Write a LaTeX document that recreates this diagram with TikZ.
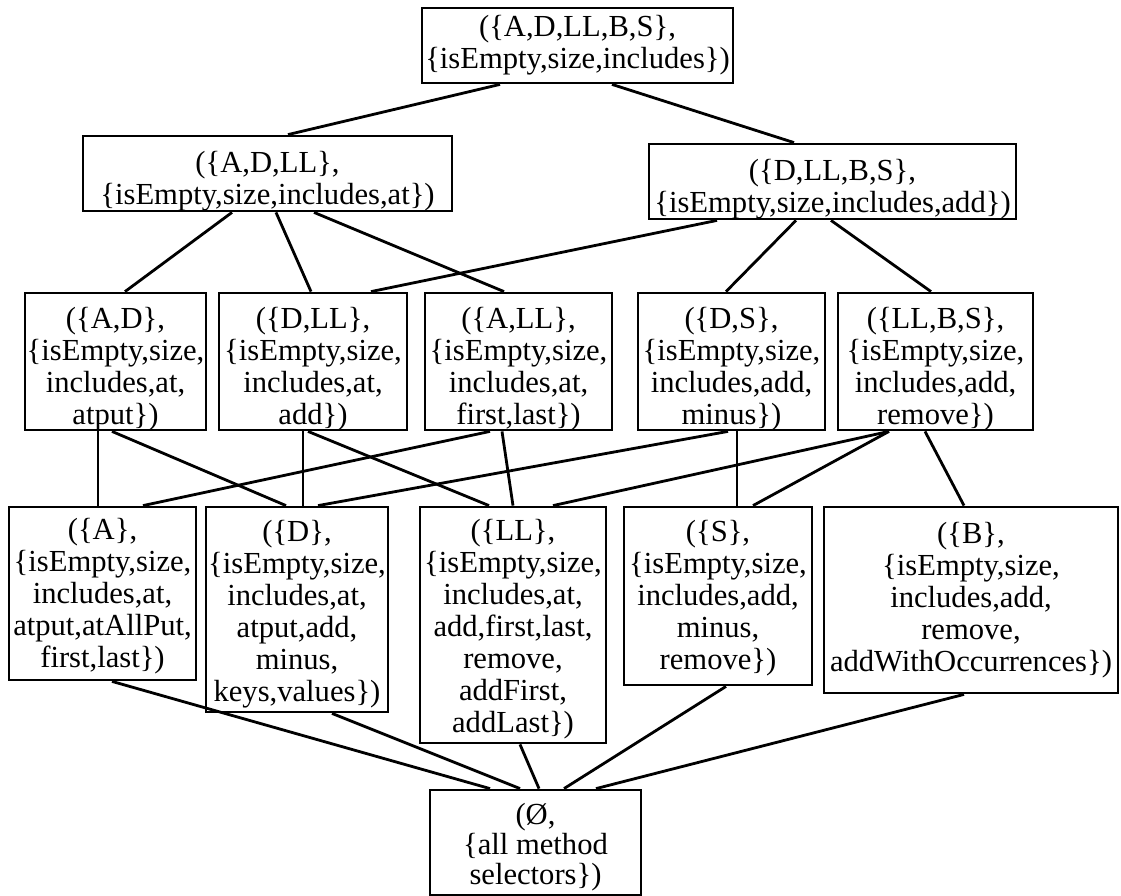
\documentclass[tikz,border=0pt]{standalone}
\usepackage{fontspec}
\setmainfont{Liberation Serif}
\begin{document}
\begin{tikzpicture}[x=1pt,y=1pt,
  box/.style={draw, line width=2.8pt, inner sep=0pt},
  txt/.style={inner sep=0pt, align=center,
    font=\fontsize{30.6}{32}\selectfont},
  edge/.style={line width=2.8pt}]
\useasboundingbox (0,0) rectangle (1121,-896);
% level 0
\node[box, minimum width=311pt, minimum height=75pt] (top) at (577.5,-45.5) {};
\node[txt] (topt) at ([yshift=0pt]top.center)
  {(\{A,D,LL,B,S\},\\\{isEmpty,size,includes\})};
% level 1
\node[box, minimum width=369pt, minimum height=75pt] (adll) at (267.5,-173.5) {};
\node[txt] (adllt) at ([yshift=-8pt]adll.center)
  {(\{A,D,LL\},\\\{isEmpty,size,includes,at\})};
\node[box, minimum width=367pt, minimum height=75pt] (dllbs) at (832.5,-181.5) {};
\node[txt] (dllbst) at ([yshift=-8pt]dllbs.center)
  {(\{D,LL,B,S\},\\\{isEmpty,size,includes,add\})};
% level 2
\node[box, minimum width=181pt, minimum height=137pt] (ad) at (115.5,-361.5) {};
\node[txt] (adt) at ([yshift=-8pt]ad.center)
  {(\{A,D\},\\\{isEmpty,size,\\includes,at,\\atput\})};
\node[box, minimum width=188pt, minimum height=137pt] (dll) at (313,-361.5) {};
\node[txt] (dllt) at ([yshift=-8pt]dll.center)
  {(\{D,LL\},\\\{isEmpty,size,\\includes,at,\\add\})};
\node[box, minimum width=187pt, minimum height=137pt] (all) at (518.5,-361.5) {};
\node[txt] (allt) at ([yshift=-8pt]all.center)
  {(\{A,LL\},\\\{isEmpty,size,\\includes,at,\\first,last\})};
\node[box, minimum width=187pt, minimum height=137pt] (ds) at (731.5,-361.5) {};
\node[txt] (dst) at ([yshift=-8pt]ds.center)
  {(\{D,S\},\\\{isEmpty,size,\\includes,add,\\minus\})};
\node[box, minimum width=195pt, minimum height=137pt] (llbs) at (935.5,-361.5) {};
\node[txt] (llbst) at ([yshift=-8pt]llbs.center)
  {(\{LL,B,S\},\\\{isEmpty,size,\\includes,add,\\remove\})};
% level 3
\node[box, minimum width=187pt, minimum height=173pt] (a) at (102.5,-593.5) {};
\node[txt] (at) at ([yshift=-3pt]a.center)
  {(\{A\},\\\{isEmpty,size,\\includes,at,\\atput,atAllPut,\\first,last\})};
\node[box, minimum width=182pt, minimum height=205pt] (d) at (297,-609.5) {};
\node[txt] (dt) at ([yshift=-5pt]d.center)
  {(\{D\},\\\{isEmpty,size,\\includes,at,\\atput,add,\\minus,\\keys,values\})};
\node[box, minimum width=186pt, minimum height=236pt] (ll) at (513,-625) {};
\node[txt] (llt) at ([yshift=-4pt]ll.center)
  {(\{LL\},\\\{isEmpty,size,\\includes,at,\\add,first,last,\\remove,\\addFirst,\\addLast\})};
\node[box, minimum width=188pt, minimum height=178pt] (s) at (718,-596) {};
\node[txt] (st) at ([yshift=-2pt]s.center)
  {(\{S\},\\\{isEmpty,size,\\includes,add,\\minus,\\remove\})};
\node[box, minimum width=294pt, minimum height=186pt] (b) at (971,-600) {};
\node[txt] (bt) at ([yshift=0pt]b.center)
  {(\{B\},\\\{isEmpty,size,\\includes,add,\\remove,\\addWithOccurrences\})};
% level 4
\node[box, minimum width=211pt, minimum height=105pt] (bot) at (535.5,-842.5) {};
\node[txt, font=\fontsize{30.6}{30}\selectfont] (bott) at ([yshift=-5pt]bot.center)
  {(Ø,\\\{all method\\selectors\})};
% edges level 0 -> 1
\draw[edge] ([xshift=-77.5pt]top.south) -- ([xshift=20.5pt]adll.north);
\draw[edge] ([xshift=34.5pt]top.south) -- ([xshift=-38.5pt]dllbs.north);
% level 1 -> 2
\draw[edge] ([xshift=-35.5pt]adll.south) -- ([xshift=9.5pt]ad.north);
\draw[edge] ([xshift=8.5pt]adll.south) -- ([xshift=-2pt]dll.north);
\draw[edge] ([xshift=46.5pt]adll.south) -- ([xshift=-14.5pt]all.north);
\draw[edge] ([xshift=-115.5pt]dllbs.south) -- ([xshift=58pt]dll.north);
\draw[edge] ([xshift=-36.5pt]dllbs.south) -- ([xshift=-5.5pt]ds.north);
\draw[edge] ([xshift=-1.5pt]dllbs.south) -- ([xshift=-4.5pt]llbs.north);
% level 2 -> 3
\draw[edge] ([xshift=-17.5pt]ad.south) -- ([xshift=-4.5pt]a.north);
\draw[edge] ([xshift=-3.5pt]ad.south) -- ([xshift=-11pt]d.north);
\draw[edge] ([xshift=-10pt]dll.south) -- ([xshift=6pt]d.north);
\draw[edge] ([xshift=-5pt]dll.south) -- ([xshift=-24pt]ll.north);
\draw[edge] ([xshift=-28.5pt]all.south) -- ([xshift=40.5pt]a.north);
\draw[edge] ([xshift=-16.5pt]all.south) -- ([xshift=0pt]ll.north);
\draw[edge] ([xshift=-3.5pt]ds.south) -- ([xshift=21pt]d.north);
\draw[edge] ([xshift=5.5pt]ds.south) -- ([xshift=19pt]s.north);
\draw[edge] ([xshift=-46.5pt]llbs.south) -- ([xshift=40pt]ll.north);
\draw[edge] ([xshift=-46.5pt]llbs.south) -- ([xshift=35pt]s.north);
\draw[edge] ([xshift=-10.5pt]llbs.south) -- ([xshift=-7pt]b.north);
% level 3 -> 4
\draw[edge] ([xshift=9.5pt]a.south) -- ([xshift=-45.5pt]bot.north);
\draw[edge] ([xshift=35pt]d.south) -- ([xshift=-15.5pt]bot.north);
\draw[edge] ([xshift=7pt]ll.south) -- ([xshift=3.5pt]bot.north);
\draw[edge] ([xshift=8pt]s.south) -- ([xshift=28.5pt]bot.north);
\draw[edge] ([xshift=-7pt]b.south) -- ([xshift=60.5pt]bot.north);
\end{tikzpicture}
\end{document}
